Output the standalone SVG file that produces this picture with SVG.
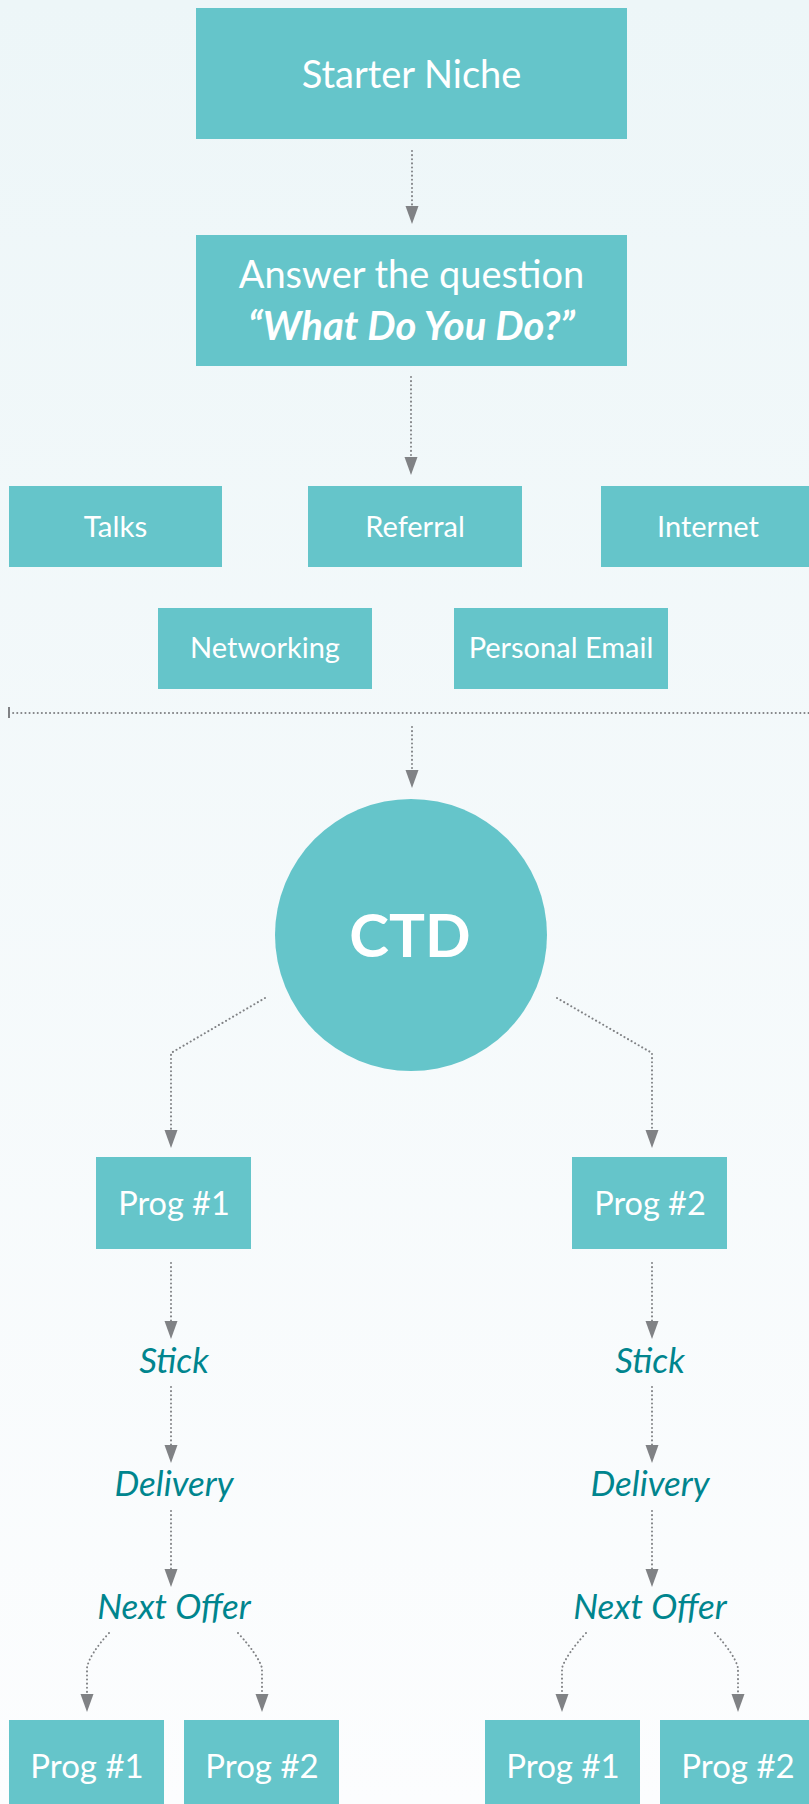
<svg xmlns="http://www.w3.org/2000/svg" width="809" height="1804" viewBox="0 0 809 1804">
<defs>
<linearGradient id="bg" x1="0" y1="0" x2="0" y2="1">
<stop offset="0" stop-color="#edf6f8"/>
<stop offset="1" stop-color="#fcfdfe"/>
</linearGradient>
<marker id="ah" markerUnits="userSpaceOnUse" markerWidth="18" markerHeight="14" refX="0" refY="7" orient="auto" viewBox="0 0 18 14">
<path d="M0,0.5 L18,7 L0,13.5 Z" fill="#808285"/>
</marker>
<style>
.box{fill:#65c5ca}
.bt{font-family:Lato,"Liberation Sans",sans-serif;fill:#ffffff;text-anchor:middle}
.lab{font-family:Lato,"Liberation Sans",sans-serif;fill:#00858e;font-style:italic;text-anchor:middle;font-size:35px}
.c{fill:none;stroke:#808285;stroke-width:2;stroke-dasharray:0.1 4;stroke-linecap:round}
.ca{fill:none;stroke:#808285;stroke-width:2;stroke-dasharray:0.1 4;stroke-linecap:round;marker-end:url(#ah)}
</style>
</defs>
<rect x="0" y="0" width="809" height="1804" fill="url(#bg)"/>

<g id="connectors">
<path class="ca" d="M412,151 L412,206"/>
<path class="ca" d="M411,377 L411,457"/>
<path class="c" d="M9,713 L809,713"/>
<rect x="8" y="707" width="2" height="11" fill="#808285"/>
<path class="ca" d="M412,727 L412,770"/>
<path class="ca" d="M265,998 L171,1053 L171,1130"/>
<path class="ca" d="M557,998 L652,1053 L652,1130"/>
<path class="ca" d="M171,1263 L171,1321"/>
<path class="ca" d="M652,1263 L652,1321"/>
<path class="ca" d="M171,1387 L171,1445"/>
<path class="ca" d="M652,1387 L652,1445"/>
<path class="ca" d="M171,1511 L171,1569"/>
<path class="ca" d="M652,1511 L652,1569"/>
<path class="ca" d="M109,1633 Q89,1655 87,1668 L87,1694"/>
<path class="ca" d="M238,1633 Q258,1655 262,1668 L262,1694"/>
<path class="ca" d="M586,1633 Q566,1655 562,1668 L562,1694"/>
<path class="ca" d="M715,1633 Q735,1655 738,1668 L738,1694"/>
</g>

<g id="starter-niche">
<rect class="box" x="196" y="8" width="431" height="131"/>
<text class="bt" x="411.5" y="88" font-size="38">Starter Niche</text>
</g>
<g id="answer">
<rect class="box" x="196" y="235" width="431" height="131"/>
<text class="bt" x="411.5" y="288" font-size="38">Answer the question</text>
<text class="bt" x="411.5" y="340" font-size="40" font-weight="bold" font-style="italic">“What Do You Do?”</text>
</g>
<g id="talks">
<rect class="box" x="9" y="486" width="213" height="81"/>
<text class="bt" x="115.5" y="537" font-size="29.5">Talks</text>
</g>
<g id="referral">
<rect class="box" x="308" y="486" width="214" height="81"/>
<text class="bt" x="415" y="537" font-size="29">Referral</text>
</g>
<g id="internet">
<rect class="box" x="601" y="486" width="214" height="81"/>
<text class="bt" x="708" y="537" font-size="29">Internet</text>
</g>
<g id="networking">
<rect class="box" x="158" y="608" width="214" height="81"/>
<text class="bt" x="265" y="658" font-size="29">Networking</text>
</g>
<g id="personal-email">
<rect class="box" x="454" y="608" width="214" height="81"/>
<text class="bt" x="561" y="658" font-size="29">Personal Email</text>
</g>
<g id="ctd">
<circle cx="411" cy="935" r="136" fill="#65c5ca"/>
<text class="bt" x="410" y="957" font-size="60" font-weight="bold">CTD</text>
</g>
<g id="prog1">
<rect class="box" x="96" y="1157" width="155" height="92"/>
<text class="bt" x="174" y="1215" font-size="32.5">Prog #1</text>
</g>
<g id="prog2">
<rect class="box" x="572" y="1157" width="155" height="92"/>
<text class="bt" x="650" y="1215" font-size="32.5">Prog #2</text>
</g>
<g id="stick1"><text class="lab" x="174" y="1373">Stick</text></g>
<g id="stick2"><text class="lab" x="650" y="1373">Stick</text></g>
<g id="delivery1"><text class="lab" x="174" y="1496">Delivery</text></g>
<g id="delivery2"><text class="lab" x="650" y="1496">Delivery</text></g>
<g id="next-offer1"><text class="lab" x="174" y="1619">Next Offer</text></g>
<g id="next-offer2"><text class="lab" x="650" y="1619">Next Offer</text></g>
<g id="p1-prog1">
<rect class="box" x="9" y="1720" width="155" height="90"/>
<text class="bt" x="87" y="1778" font-size="33">Prog #1</text>
</g>
<g id="p1-prog2">
<rect class="box" x="184" y="1720" width="155" height="90"/>
<text class="bt" x="262" y="1778" font-size="33">Prog #2</text>
</g>
<g id="p2-prog1">
<rect class="box" x="485" y="1720" width="155" height="90"/>
<text class="bt" x="563" y="1778" font-size="33">Prog #1</text>
</g>
<g id="p2-prog2">
<rect class="box" x="660" y="1720" width="155" height="90"/>
<text class="bt" x="738" y="1778" font-size="33">Prog #2</text>
</g>
</svg>
